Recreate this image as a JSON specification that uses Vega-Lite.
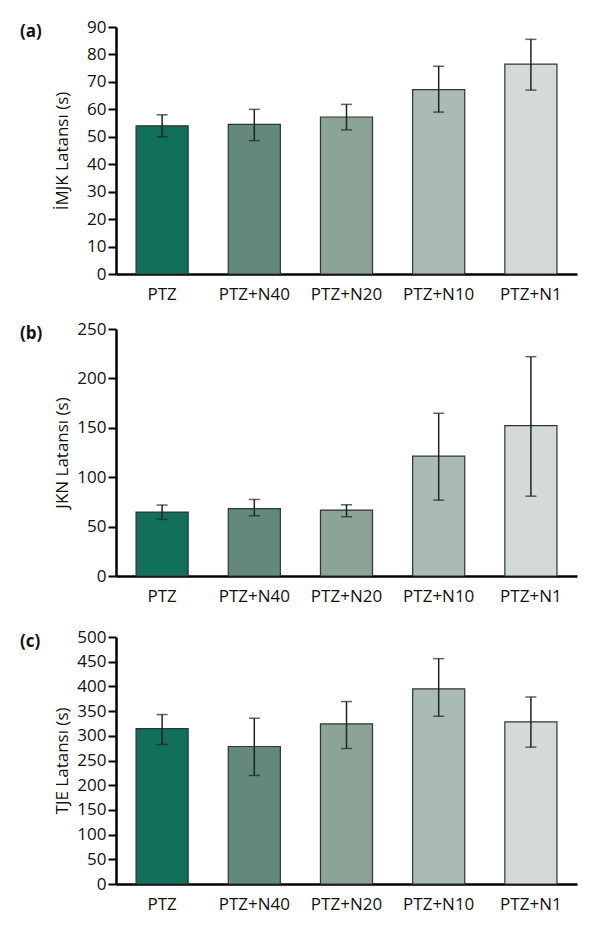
{
  "$schema": "https://vega.github.io/schema/vega-lite/v6.json",
  "background": "white",
  "padding": {"left": 20, "top": 18, "right": 10, "bottom": 10},
  "datasets": {
    "d": [
      {"panel": "a", "group": "PTZ", "mean": 54, "lo": 50, "hi": 58},
      {"panel": "a", "group": "PTZ+N40", "mean": 54.5, "lo": 48.6, "hi": 60},
      {"panel": "a", "group": "PTZ+N20", "mean": 57.2, "lo": 52.5, "hi": 61.8},
      {"panel": "a", "group": "PTZ+N10", "mean": 67.2, "lo": 59, "hi": 75.7},
      {"panel": "a", "group": "PTZ+N1", "mean": 76.5, "lo": 67, "hi": 85.5},
      {"panel": "b", "group": "PTZ", "mean": 64.7, "lo": 57.3, "hi": 71.8},
      {"panel": "b", "group": "PTZ+N40", "mean": 68.1, "lo": 61, "hi": 77.5},
      {"panel": "b", "group": "PTZ+N20", "mean": 66.7, "lo": 60, "hi": 72.1},
      {"panel": "b", "group": "PTZ+N10", "mean": 121.3, "lo": 76.8, "hi": 164.7},
      {"panel": "b", "group": "PTZ+N1", "mean": 152.3, "lo": 80.8, "hi": 222},
      {"panel": "c", "group": "PTZ", "mean": 314.7, "lo": 282.4, "hi": 343},
      {"panel": "c", "group": "PTZ+N40", "mean": 278.3, "lo": 219.7, "hi": 335.6},
      {"panel": "c", "group": "PTZ+N20", "mean": 324, "lo": 274.3, "hi": 369.3},
      {"panel": "c", "group": "PTZ+N10", "mean": 394.8, "lo": 339.6, "hi": 456.2},
      {"panel": "c", "group": "PTZ+N1", "mean": 328, "lo": 277, "hi": 378.6}
    ]
  },
  "config": {
    "font": "Open Sans",
    "view": {"stroke": null},
    "axis": {
      "grid": false,
      "labelFont": "Open Sans",
      "labelFontSize": 17,
      "labelColor": "#111",
      "labelOverlap": false,
      "labelFlush": false,
      "titleFont": "Open Sans",
      "titleFontSize": 17,
      "titleFontWeight": "normal",
      "titleColor": "#111",
      "domainColor": "#000",
      "domainWidth": 2.5,
      "tickColor": "#000",
      "tickWidth": 2,
      "tickSize": 8,
      "labelPadding": 2
    },
    "title": {"font": "Open Sans", "fontSize": 17, "fontWeight": "bold", "color": "#111"}
  },
  "vconcat": [
    {
      "spacing": 18,
      "vconcat": [
        {
          "width": 461, "height": 247,
          "title": {"text": "(a)", "anchor": "start", "frame": "group", "dx": -96, "baseline": "top", "offset": -23},
          "data": {"name": "d"},
          "transform": [{"filter": "datum.panel == 'a'"}],
          "encoding": {
            "x": {"field": "group", "type": "nominal", "sort": null,
                  "scale": {"paddingInner": 0.435, "paddingOuter": 0.2175},
                  "axis": {"title": null, "labelAngle": 0, "ticks": false, "labelPadding": 12}}
          },
          "layer": [
            {"mark": {"type": "bar", "stroke": "#333", "strokeWidth": 1.2},
             "encoding": {
               "y": {"field": "mean", "type": "quantitative",
                     "scale": {"domain": [0, 90], "nice": false},
                     "axis": {"title": "İMJK Latansı (s)", "values": [0,10,20,30,40,50,60,70,80,90], "titleX": -54, "titleY": 123.5, "titleBaseline": "middle", "titleAngle": -90}},
               "color": {"field": "group", "type": "nominal", "sort": null, "legend": null,
                         "scale": {"range": ["#12705a", "#62897b", "#8ba497", "#a9bbb3", "#d4dbd7"]}}
             }},
            {"mark": {"type": "rule", "color": "#222", "strokeWidth": 1.5},
             "encoding": {"y": {"field": "lo", "type": "quantitative", "axis": {"title": "İMJK Latansı (s)", "values": [0,10,20,30,40,50,60,70,80,90], "titleX": -54, "titleY": 123.5, "titleBaseline": "middle", "titleAngle": -90}}, "y2": {"field": "hi"}}},
            {"mark": {"type": "tick", "color": "#222", "thickness": 1.5, "size": 11},
             "encoding": {"y": {"field": "lo", "type": "quantitative", "axis": {"title": "İMJK Latansı (s)", "values": [0,10,20,30,40,50,60,70,80,90], "titleX": -54, "titleY": 123.5, "titleBaseline": "middle", "titleAngle": -90}}}},
            {"mark": {"type": "tick", "color": "#222", "thickness": 1.5, "size": 11},
             "encoding": {"y": {"field": "hi", "type": "quantitative", "axis": {"title": "İMJK Latansı (s)", "values": [0,10,20,30,40,50,60,70,80,90], "titleX": -54, "titleY": 123.5, "titleBaseline": "middle", "titleAngle": -90}}}}
          ]
        },
        {
          "width": 461, "height": 247,
          "title": {"text": "(b)", "anchor": "start", "frame": "group", "dx": -96, "baseline": "top", "offset": -23},
          "data": {"name": "d"},
          "transform": [{"filter": "datum.panel == 'b'"}],
          "encoding": {
            "x": {"field": "group", "type": "nominal", "sort": null,
                  "scale": {"paddingInner": 0.435, "paddingOuter": 0.2175},
                  "axis": {"title": null, "labelAngle": 0, "ticks": false, "labelPadding": 12}}
          },
          "layer": [
            {"mark": {"type": "bar", "stroke": "#333", "strokeWidth": 1.2},
             "encoding": {
               "y": {"field": "mean", "type": "quantitative",
                     "scale": {"domain": [0, 250], "nice": false},
                     "axis": {"title": "JKN Latansı (s)", "values": [0,50,100,150,200,250], "titleX": -54, "titleY": 123.5, "titleBaseline": "middle", "titleAngle": -90}},
               "color": {"field": "group", "type": "nominal", "sort": null, "legend": null,
                         "scale": {"range": ["#12705a", "#62897b", "#8ba497", "#a9bbb3", "#d4dbd7"]}}
             }},
            {"mark": {"type": "rule", "color": "#222", "strokeWidth": 1.5},
             "encoding": {"y": {"field": "lo", "type": "quantitative", "axis": {"title": "JKN Latansı (s)", "values": [0,50,100,150,200,250], "titleX": -54, "titleY": 123.5, "titleBaseline": "middle", "titleAngle": -90}}, "y2": {"field": "hi"}}},
            {"mark": {"type": "tick", "color": "#222", "thickness": 1.5, "size": 11},
             "encoding": {"y": {"field": "lo", "type": "quantitative", "axis": {"title": "JKN Latansı (s)", "values": [0,50,100,150,200,250], "titleX": -54, "titleY": 123.5, "titleBaseline": "middle", "titleAngle": -90}}}},
            {"mark": {"type": "tick", "color": "#222", "thickness": 1.5, "size": 11},
             "encoding": {"y": {"field": "hi", "type": "quantitative", "axis": {"title": "JKN Latansı (s)", "values": [0,50,100,150,200,250], "titleX": -54, "titleY": 123.5, "titleBaseline": "middle", "titleAngle": -90}}}}
          ]
        }
      ]
    },
    {
      "width": 461, "height": 247,
      "title": {"text": "(c)", "anchor": "start", "frame": "group", "dx": -96, "baseline": "top", "offset": -23},
      "data": {"name": "d"},
      "transform": [{"filter": "datum.panel == 'c'"}],
      "encoding": {
        "x": {"field": "group", "type": "nominal", "sort": null,
              "scale": {"paddingInner": 0.435, "paddingOuter": 0.2175},
              "axis": {"title": null, "labelAngle": 0, "ticks": false, "labelPadding": 12}}
      },
      "layer": [
        {"mark": {"type": "bar", "stroke": "#333", "strokeWidth": 1.2},
         "encoding": {
           "y": {"field": "mean", "type": "quantitative",
                 "scale": {"domain": [0, 500], "nice": false},
                 "axis": {"title": "TJE Latansı (s)", "values": [0,50,100,150,200,250,300,350,400,450,500], "titleX": -54, "titleY": 123.5, "titleBaseline": "middle", "titleAngle": -90}},
           "color": {"field": "group", "type": "nominal", "sort": null, "legend": null,
                     "scale": {"range": ["#12705a", "#62897b", "#8ba497", "#a9bbb3", "#d4dbd7"]}}
         }},
        {"mark": {"type": "rule", "color": "#222", "strokeWidth": 1.5},
         "encoding": {"y": {"field": "lo", "type": "quantitative", "axis": {"title": "TJE Latansı (s)", "values": [0,50,100,150,200,250,300,350,400,450,500], "titleX": -54, "titleY": 123.5, "titleBaseline": "middle", "titleAngle": -90}}, "y2": {"field": "hi"}}},
        {"mark": {"type": "tick", "color": "#222", "thickness": 1.5, "size": 11},
         "encoding": {"y": {"field": "lo", "type": "quantitative", "axis": {"title": "TJE Latansı (s)", "values": [0,50,100,150,200,250,300,350,400,450,500], "titleX": -54, "titleY": 123.5, "titleBaseline": "middle", "titleAngle": -90}}}},
        {"mark": {"type": "tick", "color": "#222", "thickness": 1.5, "size": 11},
         "encoding": {"y": {"field": "hi", "type": "quantitative", "axis": {"title": "TJE Latansı (s)", "values": [0,50,100,150,200,250,300,350,400,450,500], "titleX": -54, "titleY": 123.5, "titleBaseline": "middle", "titleAngle": -90}}}}
      ]
    }
  ],
  "spacing": 24,
  "resolve": {"scale": {"color": "shared"}}
}
